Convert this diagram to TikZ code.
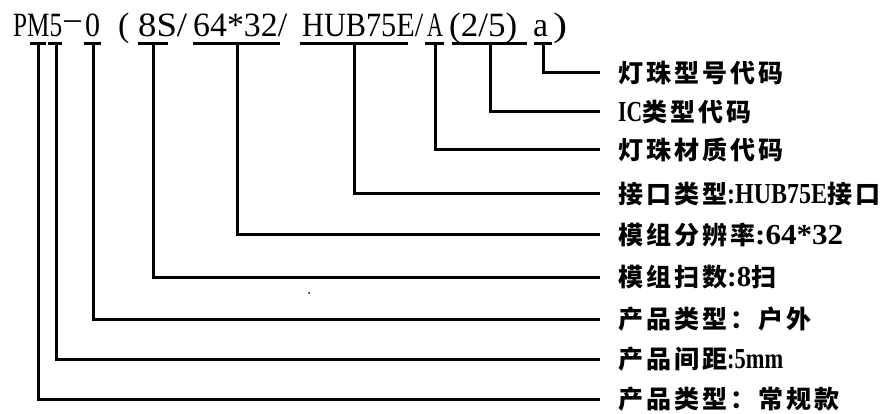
\documentclass[tikz,border=0pt]{standalone}
\usepackage{fontspec}
\usepackage{graphicx}
\setmainfont{Liberation Serif}
\newfontfamily\cjkfont[LetterSpace=12]{Noto Sans CJK SC}
\newcommand\lm[2]{{\rmfamily\bfseries\fontsize{29}{29}\selectfont\resizebox{#1pt}{\height}{#2}}}
\newcommand\tg[2]{\resizebox{#1pt}{\height}{#2}}
\begin{document}
\begin{tikzpicture}[x=1pt,y=-1pt,
  ln/.style={line width=3pt},
  lbl/.style={anchor=west, inner xsep=18pt, inner ysep=0pt, text height=20.75pt, text depth=1.75pt, font=\cjkfont\bfseries\fontsize{25}{25}\selectfont},
  toptext/.style={anchor=base west, inner sep=0pt, font=\fontsize{34}{34}\selectfont}]
\useasboundingbox (0,0) rectangle (889,414);
% top code string
\node[toptext] (tPM) at (13,37) {\tg{49}{PM5}};
\node[toptext] (tDash) at (64,37) {\raisebox{7pt}{\tg{17}{—}}};
\node[toptext] (tZero) at (85,37) {\tg{15}{0}};
\node[toptext] (tPar) at (118,37) {(};
\node[toptext] (t8S) at (138,37) {\tg{49}{8S/}};
\node[toptext] (t64) at (193,37) {\tg{94}{64*32/}};
\node[toptext] (tHUB) at (302,37) {\tg{121}{HUB75E/}};
\node[toptext] (tA) at (427,37) {\tg{16}{A}};
\node[toptext] (t25) at (449,37) {\tg{68}{(2/5)}};
\node[toptext] (ta) at (533,37) {\tg{15}{a}};
\node[toptext] (tcl) at (553,37) {\tg{14}{)}};
% labels
\node[lbl] (l1) at (600,73) {灯珠型号代码};
\node[lbl] (l2) at (600,112) {\lm{24}{IC}类型代码};
\node[lbl] (l3) at (600,150) {灯珠材质代码};
\node[lbl] (l4) at (600,194) {接口类型\lm{100}{:HUB75E}接口};
\node[lbl] (l5) at (600,235) {模组分辨率\lm{88}{:64*32}};
\node[lbl] (l6) at (600,277) {模组扫数\lm{24}{:8}扫};
\node[lbl] (l7) at (600,319) {产品类型：户外};
\node[lbl] (l8) at (600,359) {产品间距\lm{56}{:5mm}};
\node[lbl] (l9) at (600,399) {产品类型：常规款};
% connector start points
\coordinate (u1) at (543,44);
\coordinate (u2) at (490,44);
\coordinate (u3) at (435,44);
\coordinate (u4) at (354,44);
\coordinate (u5) at (237,44);
\coordinate (u6) at (153,44);
\coordinate (u7) at (93.5,44);
\coordinate (u8) at (56,44);
\coordinate (u9) at (38.5,44);
% underlines + leaders
\draw[ln] ([xshift=-9pt]u1) -- ([xshift=9pt]u1) (u1) |- (l1.west);
\draw[ln] ([xshift=-38pt]u2) -- ([xshift=37pt]u2) (u2) |- (l2.west);
\draw[ln] ([xshift=-10pt]u3) -- ([xshift=9pt]u3) (u3) |- (l3.west);
\draw[ln] ([xshift=-54pt]u4) -- ([xshift=54pt]u4) (u4) |- (l4.west);
\draw[ln] ([xshift=-44pt]u5) -- ([xshift=43pt]u5) (u5) |- (l5.west);
\draw[ln] ([xshift=-15pt]u6) -- ([xshift=15pt]u6) (u6) |- (l6.west);
\draw[ln] ([xshift=-10pt]u7) -- ([xshift=7pt]u7) (u7) |- (l7.west);
\draw[ln] ([xshift=-8pt]u8) -- ([xshift=6pt]u8) (u8) |- (l8.west);
\draw[ln] ([xshift=-8.5pt]u9) -- ([xshift=7.5pt]u9) (u9) |- (l9.west);
\fill (309,293) circle (1pt);
\end{tikzpicture}
\end{document}
